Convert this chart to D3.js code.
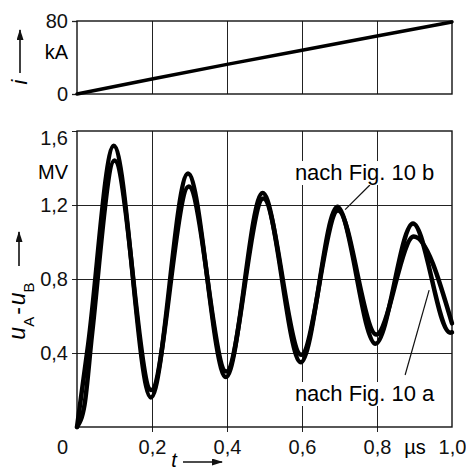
<!DOCTYPE html>
<html>
<head>
<meta charset="utf-8">
<script src="https://cdn.jsdelivr.net/npm/d3@7"></script>
<style>
	body { margin: 0; background: #fff; }
	svg { display: block; font-family: "Liberation Sans", Arial, sans-serif; }
	.tick text { font-size: 20px; fill: #111; }
	.tick line { stroke: #222; }
</style>
</head>
<body>
<div id="chartDiv"></div>
<script>
// current i (kA) over time t (µs)
const timeI = [0, 0.2, 0.4, 0.6, 0.8, 1.0];
const currentI = [0, 16.5, 32.5, 48, 63.5, 79];

// u_A - u_B (MV), curve "nach Fig. 10 b"
const timeB = [0, 0.03, 0.098, 0.197, 0.296, 0.397, 0.495, 0.597, 0.694, 0.796, 0.896, 0.995, 1.0];
const voltB = [0, 0.45, 1.52, 0.16, 1.37, 0.27, 1.265, 0.35, 1.19, 0.45, 1.10, 0.51, 0.512];

// u_A - u_B (MV), curve "nach Fig. 10 a"
const timeA = [0, 0.02, 0.04, 0.1, 0.198, 0.298, 0.398, 0.497, 0.598, 0.696, 0.798, 0.898, 1.0];
const voltA = [0, 0.12, 0.5, 1.44, 0.20, 1.30, 0.30, 1.235, 0.39, 1.17, 0.50, 1.03, 0.56];

const xTicks = [0, 0.2, 0.4, 0.6, 0.8, 1.0];
const xGrid = [0.2, 0.4, 0.6, 0.8];
const iTicks = [0, 80];
const uTicks = [0.4, 0.8, 1.2, 1.6];

const labelB = "nach Fig. 10 b";
const labelA = "nach Fig. 10 a";

;(function() {

	var width = 466, height = 470;
	var left = 77, right = 452;
	var top1 = 21, bottom1 = 94;
	var top2 = 131, bottom2 = 427;

	var svg = d3.select("#chartDiv").append("svg")
		.attr("width", width)
		.attr("height", height);

	svg.append("defs").append("marker")
		.attr("id", "head")
		.attr("markerUnits", "userSpaceOnUse")
		.attr("markerWidth", 11).attr("markerHeight", 7)
		.attr("refX", 10).attr("refY", 3.5)
		.attr("orient", "auto")
		.append("path").attr("d", "M0,0 L11,3.5 L0,7 z").attr("fill", "#111");

	var x = d3.scaleLinear().domain([0, 1]).range([left, right]);
	var yI = d3.scaleLinear().domain([0, 80]).range([bottom1, top1]);
	var yU = d3.scaleLinear().domain([0, 1.6]).range([bottom2, top2]);

	function fmt(d) { return d === 0 ? "0" : d3.format(".1f")(d).replace(".", ","); }

	// ---- top plot: current
	svg.append("g")
		.attr("transform", "translate(0," + bottom1 + ")")
		.call(d3.axisBottom(x).tickValues(xGrid).tickSize(-(bottom1 - top1)).tickFormat(""))
		.call(g => g.select(".domain").remove());

	svg.append("g")
		.attr("transform", "translate(" + left + ",0)")
		.call(d3.axisLeft(yI).tickValues(iTicks).tickSize(5).tickPadding(4).tickFormat(d => d))
		.call(g => g.select(".domain").remove())
		.call(g => g.selectAll(".tick line").attr("stroke-width", 1.3));

	svg.append("rect")
		.attr("x", left).attr("y", top1)
		.attr("width", right - left).attr("height", bottom1 - top1)
		.attr("fill", "none").attr("stroke", "#111").attr("stroke-width", 1.4);

	svg.append("text")
		.attr("x", left - 9).attr("y", 59)
		.attr("text-anchor", "end")
		.style("font-size", "20px")
		.text("kA");

	var lineI = d3.line().x(d => x(d[0])).y(d => yI(d[1]));
	svg.append("path")
		.datum(d3.zip(timeI, currentI))
		.attr("d", lineI)
		.attr("fill", "none").attr("stroke", "#000").attr("stroke-width", 3.5)
		.attr("stroke-linecap", "round");

	// i label with arrow
	svg.append("text")
		.attr("transform", "translate(27,82) rotate(-90)")
		.attr("text-anchor", "middle")
		.style("font-size", "22px").style("font-style", "italic")
		.text("i");
	svg.append("line")
		.attr("x1", 20).attr("y1", 73).attr("x2", 20).attr("y2", 30)
		.attr("stroke", "#111").attr("stroke-width", 1.6)
		.attr("marker-end", "url(#head)");

	// ---- bottom plot: voltage
	svg.append("g")
		.attr("transform", "translate(0," + bottom2 + ")")
		.call(d3.axisBottom(x).tickValues(xGrid).tickSize(-(bottom2 - top2)).tickFormat(""))
		.call(g => g.select(".domain").remove());

	svg.append("g")
		.attr("transform", "translate(" + left + ",0)")
		.call(d3.axisLeft(yU).tickValues(uTicks.slice(0, 3)).tickSize(-(right - left)).tickFormat(""))
		.call(g => g.select(".domain").remove());

	svg.append("g")
		.attr("transform", "translate(" + left + ",0)")
		.call(d3.axisLeft(yU).tickValues(uTicks).tickSize(5).tickPadding(4).tickFormat(fmt))
		.call(g => g.select(".domain").remove())
		.call(g => g.selectAll(".tick text").filter(d => d === 1.6).attr("y", 7));

	svg.append("g")
		.attr("transform", "translate(0," + bottom2 + ")")
		.call(d3.axisBottom(x).tickValues(xTicks).tickSize(5).tickPadding(8).tickFormat(fmt))
		.call(g => g.select(".domain").remove())
		.call(g => g.selectAll(".tick line").filter(d => d === 0 || d === 1).remove())
		.call(g => g.selectAll(".tick text").filter(d => d === 0).attr("x", -15));

	svg.append("rect")
		.attr("x", left).attr("y", top2)
		.attr("width", right - left).attr("height", bottom2 - top2)
		.attr("fill", "none").attr("stroke", "#111").attr("stroke-width", 1.4);

	svg.append("text")
		.attr("x", left - 9).attr("y", 179)
		.attr("text-anchor", "end")
		.style("font-size", "20px")
		.text("MV");

	svg.append("text")
		.attr("x", 415).attr("y", 453.5)
		.attr("text-anchor", "middle")
		.style("font-size", "20px")
		.text("µs");

	// t label with arrow
	svg.append("text")
		.attr("x", 174).attr("y", 467)
		.attr("text-anchor", "middle")
		.style("font-size", "20px").style("font-style", "italic")
		.text("t");
	svg.append("line")
		.attr("x1", 183).attr("y1", 462).attr("x2", 222).attr("y2", 462)
		.attr("stroke", "#111").attr("stroke-width", 1.6)
		.attr("marker-end", "url(#head)");

	// u_A - u_B label with arrow
	var uLabel = svg.append("text")
		.attr("transform", "translate(25,311) rotate(-90)")
		.attr("text-anchor", "middle")
		.style("font-size", "23px");
	uLabel.append("tspan").style("font-style", "italic").text("u");
	uLabel.append("tspan").attr("dy", 9).style("font-size", "15px").text("A");
	uLabel.append("tspan").attr("dy", -9).attr("dx", 2).text("-");
	uLabel.append("tspan").attr("dx", 2).style("font-style", "italic").text("u");
	uLabel.append("tspan").attr("dy", 9).style("font-size", "15px").text("B");
	svg.append("line")
		.attr("x1", 19).attr("y1", 266).attr("x2", 19).attr("y2", 232)
		.attr("stroke", "#111").attr("stroke-width", 1.6)
		.attr("marker-end", "url(#head)");

	// curves
	var lineU = d3.line().x(d => x(d[0])).y(d => yU(d[1])).curve(d3.curveMonotoneX);
	[d3.zip(timeA, voltA), d3.zip(timeB, voltB)].forEach(function(pts) {
		svg.append("path")
			.datum(pts)
			.attr("d", lineU)
			.attr("fill", "none").attr("stroke", "#000").attr("stroke-width", 4.5)
			.attr("stroke-linejoin", "round").attr("stroke-linecap", "round");
	});

	// annotations
	function note(text, tx, vy, from, to) {
		svg.append("line")
			.attr("x1", x(from[0])).attr("y1", yU(from[1]))
			.attr("x2", x(to[0])).attr("y2", yU(to[1]))
			.attr("stroke", "#111").attr("stroke-width", 1.2);
		var g = svg.append("g");
		var bg = g.append("rect").attr("fill", "#fff");
		var t = g.append("text")
			.attr("x", x(tx)).attr("y", yU(vy))
			.style("font-size", "22px")
			.text(text);
		var b = t.node().getBBox();
		bg.attr("x", b.x - 2).attr("y", b.y + 1).attr("width", b.width + 4).attr("height", b.height - 1);
	}
	note(labelB, 0.581, 1.335, [0.781, 1.308], [0.715, 1.175]);
	note(labelA, 0.581, 0.1405, [0.875, 0.281], [0.939, 0.74]);

})();
</script>
</body>
</html>
